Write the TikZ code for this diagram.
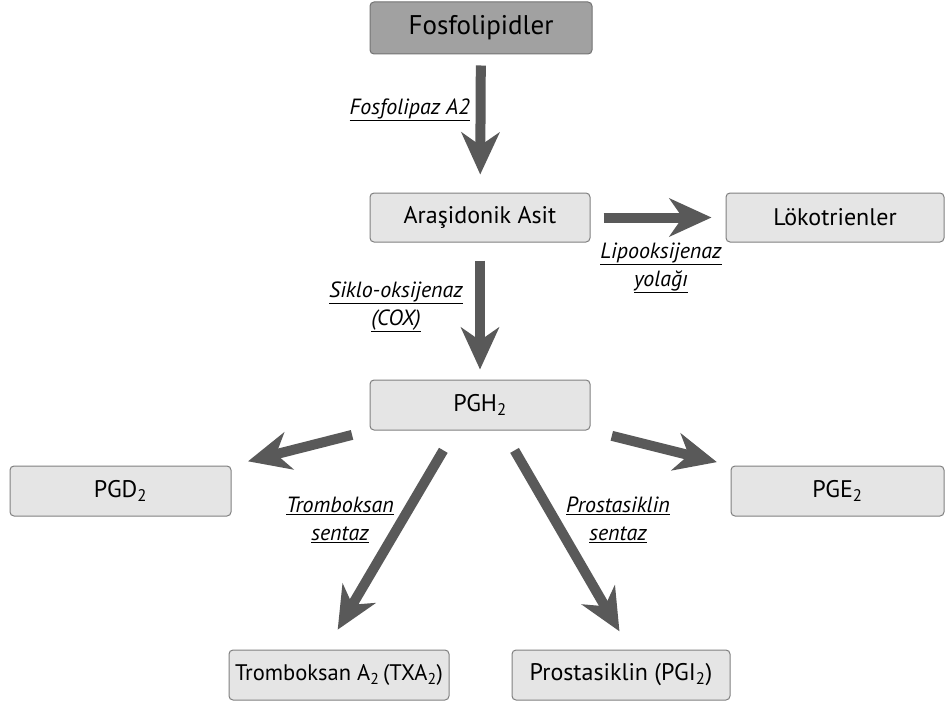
\documentclass[tikz,border=0pt]{standalone}
\usepackage{fontspec}
\setmainfont{PT Sans}
\usetikzlibrary{arrows.meta}
\begin{document}
\begin{tikzpicture}[x=1pt, y=-1pt]
\tikzstyle{kutu} = [draw=black!50, fill=black!10, rounded corners=4pt, line width=1pt, minimum height=50pt, inner sep=0pt, font=\fontsize{24}{28}\selectfont] % ara ürün kutusu
\tikzstyle{anakutu} = [kutu, fill=black!37, draw=black!55, minimum height=52pt, font=\fontsize{27}{30}\selectfont] % başlangıç kutusu
\tikzstyle{ok} = [draw=black!65, line width=10pt, -{Stealth[length=42pt, width=38pt, inset=13pt]}] % kalın ok
\tikzstyle{enzim} = [font=\fontsize{22}{28}\selectfont\itshape, align=center, inner sep=0pt] % enzim etiketi

\useasboundingbox (0,0) rectangle (945,706);

% kutular
\node[anakutu, minimum width=222pt] (fos) at (481,28) {Fosfolipidler};
\node[kutu, minimum width=220pt, minimum height=49pt] (ara) at (480,217.5) {Araşidonik Asit};
\node[kutu, minimum width=218pt, minimum height=49pt] (lok) at (835,217.5) {Lökotrienler};
\node[kutu, minimum width=220pt] (pgh) at (480,405) {PGH\textsubscript{2}};
\node[kutu, minimum width=221pt] (pgd) at (120.5,491) {PGD\textsubscript{2}};
\node[kutu, minimum width=213pt] (pge) at (837.5,491) {PGE\textsubscript{2}};
\node[kutu, minimum width=220pt, font=\fontsize{22.5}{28}\selectfont] (txa) at (339,675) {Tromboksan A\textsubscript{2}\,(TXA\textsubscript{2})};
\node[kutu, minimum width=218pt] (pgi) at (621,675) {Prostasiklin (PGI\textsubscript{2})};

% oklar
\draw[ok, shorten <=11pt, shorten >=18pt] (fos) -- (ara);
\draw[ok, shorten <=13pt, shorten >=14pt] (ara) -- (lok);
\draw[ok, shorten <=18pt, shorten >=10pt] (ara) -- (pgh);
\draw[ok, shorten <=18pt, shorten >=17pt] (pgh.south west) -- (pgd.north east);
\draw[ok, shorten <=22pt, shorten >=14pt] (pgh.south east) -- (pge.north west);
\draw[ok, shorten <=23pt, shorten >=23pt] ([xshift=-25pt]pgh.south) -- ([xshift=-13pt]txa.north);
\draw[ok, shorten <=23pt, shorten >=21pt] ([xshift=23pt]pgh.south) -- ([xshift=9pt]pgi.north);

% enzimler
\node[enzim, anchor=east] (fla2) at (470,110) {\underline{Fosfolipaz A2}};
\node[enzim] (lox) at (661,268) {\underline{Lipooksijenaz}\\\underline{yolağı}};
\node[enzim] (cox) at (396,307) {\underline{Siklo-oksijenaz}\\\underline{(COX)}};
\node[enzim] (txs) at (340,520) {\underline{Tromboksan}\\\underline{sentaz}};
\node[enzim] (pgis) at (618,520) {\underline{Prostasiklin}\\\underline{sentaz}};
\end{tikzpicture}
\end{document}
